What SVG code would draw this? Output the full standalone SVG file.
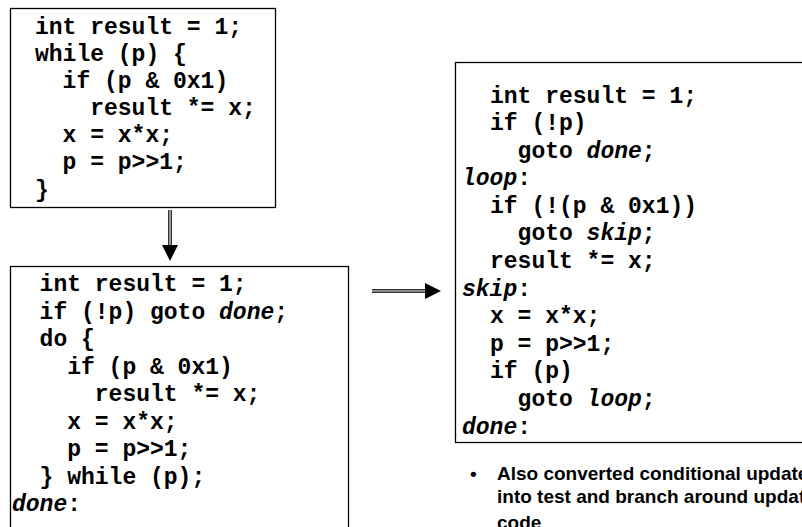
<svg xmlns="http://www.w3.org/2000/svg" width="802" height="527" viewBox="0 0 802 527">
<style>
.box{fill:#fff;stroke:#000;stroke-width:1.3}
.code{font-family:"Liberation Mono","Courier New",monospace;font-weight:bold;font-size:23px;fill:#000;white-space:pre}
.lbl{font-style:italic}
.shaft{stroke:#333;stroke-width:4;fill:none}
.shaftin{stroke:#ddd;stroke-width:1.2;fill:none}
.head{fill:#000}
.note{font-family:"Liberation Sans",Arial,sans-serif;font-weight:bold;font-size:19px;fill:#000}
</style>
<rect width="802" height="527" fill="#fff"/>
<g id="while-loop">
<rect class="box" x="10.5" y="8.5" width="265" height="199"/>
<text class="code" xml:space="preserve"><tspan x="35" y="34">int result = 1;</tspan><tspan x="35" y="61">while (p) {</tspan><tspan x="62.6" y="88">if (p &amp; 0x1)</tspan><tspan x="90.2" y="115">result *= x;</tspan><tspan x="62.6" y="142">x = x*x;</tspan><tspan x="62.6" y="169">p = p&gt;&gt;1;</tspan><tspan x="35" y="197">}</tspan></text>
</g>
<g id="do-while">
<rect class="box" x="10.5" y="266.5" width="338" height="300"/>
<text class="code" xml:space="preserve"><tspan x="39.6" y="291">int result = 1;</tspan><tspan x="39.6" y="318.5">if (!p) goto <tspan class="lbl">done</tspan>;</tspan><tspan x="39.6" y="346">do {</tspan><tspan x="67.2" y="373.5">if (p &amp; 0x1)</tspan><tspan x="94.8" y="401">result *= x;</tspan><tspan x="67.2" y="428.5">x = x*x;</tspan><tspan x="67.2" y="456">p = p&gt;&gt;1;</tspan><tspan x="39.6" y="483.5">} while (p);</tspan><tspan x="12" y="511"><tspan class="lbl">done</tspan>:</tspan></text>
</g>
<g id="goto-version">
<rect class="box" x="455.5" y="62.5" width="400" height="380"/>
<text class="code" xml:space="preserve"><tspan x="490" y="103">int result = 1;</tspan><tspan x="490" y="130">if (!p)</tspan><tspan x="517.6" y="158">goto <tspan class="lbl">done</tspan>;</tspan><tspan x="462" y="185"><tspan class="lbl">loop</tspan>:</tspan><tspan x="490" y="213">if (!(p &amp; 0x1))</tspan><tspan x="517.6" y="240">goto <tspan class="lbl">skip</tspan>;</tspan><tspan x="490" y="268">result *= x;</tspan><tspan x="462" y="296"><tspan class="lbl">skip</tspan>:</tspan><tspan x="490" y="323">x = x*x;</tspan><tspan x="490" y="351">p = p&gt;&gt;1;</tspan><tspan x="490" y="378">if (p)</tspan><tspan x="517.6" y="406">goto <tspan class="lbl">loop</tspan>;</tspan><tspan x="462" y="434"><tspan class="lbl">done</tspan>:</tspan></text>
</g>
<g id="connectors">
<line class="shaft" x1="170" y1="210" x2="170" y2="246"/>
<line class="shaftin" x1="170" y1="210" x2="170" y2="246"/>
<polygon class="head" points="162,245 178,245 170,261"/>
<line class="shaft" x1="372" y1="291" x2="426" y2="291"/>
<line class="shaftin" x1="372" y1="291" x2="426" y2="291"/>
<polygon class="head" points="425,283 425,299 441,291"/>
</g>
<g id="note">
<text class="note"><tspan x="470" y="480">•</tspan><tspan x="497" y="480">Also converted conditional update</tspan><tspan x="497" y="503">into test and branch around update</tspan><tspan x="497" y="529">code</tspan></text>
</g>
</svg>
